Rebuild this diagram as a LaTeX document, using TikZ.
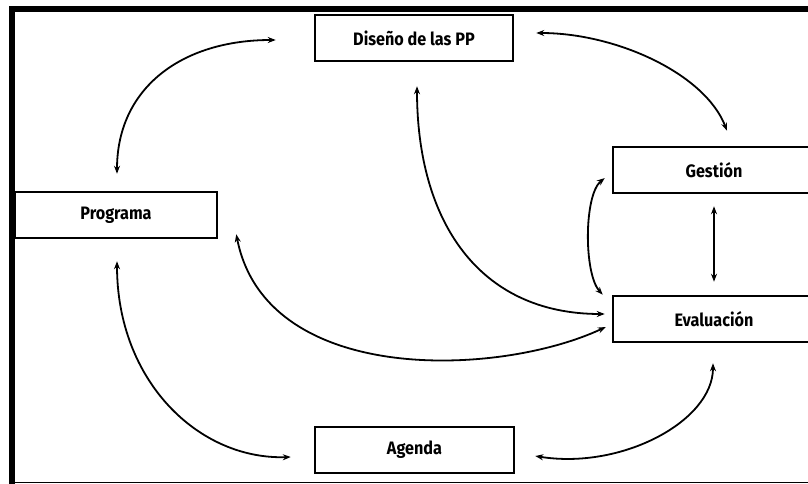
\documentclass[tikz,border=0pt]{standalone}
\usepackage{fontspec}
\setmainfont{Fira Sans}[FakeStretch=0.9]
\usetikzlibrary{arrows.meta,calc}

\tikzset{
  box/.style={draw=black, line width=2.5pt, minimum height=46pt, inner sep=0pt,
    font=\fontsize{18}{20}\selectfont\bfseries},
  link/.style={{Stealth[length=8pt,width=6pt]}-{Stealth[length=8pt,width=6pt]},
    line width=1.8pt, black}
}

\begin{document}
\begin{tikzpicture}[x=1pt, y=-1pt]
            \useasboundingbox (0, 0) rectangle (808, 484);
            \clip (0, 0) rectangle (808, 484);

            % the frame
            \draw[line width=6pt, line join=miter] (12, 490) -- (12, 9) -- (815, 9);
            \draw[line width=1.5pt] (15, 482.5) -- (815, 482.5);

            % the boxes
            \node[box, minimum width=198pt] (dis) at (414, 38) {Diseño de las PP};
            \node[box, minimum width=202pt] (prog) at (116, 215) {Programa};
            \node[box, minimum width=202pt] (ges) at (714, 170) {Gestión};
            \node[box, minimum width=202pt] (eva) at (714, 319) {Evaluación};
            \node[box, minimum width=199pt] (age) at (414.5, 450) {Agenda};

            % the links
            \draw[link] ($(prog.north)+(1, -17)$)
            .. controls +(0, -85) and +(-95, 0) ..
            ($(dis.west)+(-38, 2)$);
            \draw[link] ($(dis.east)+(22, -5)$)
            .. controls +(80, 0) and +(-22, -57) ..
            ($(ges.north)+(13, -15)$);
            \draw[link] ($(dis.south)+(3, 24)$)
            .. controls +(0, 135) and +(-126, 0) ..
            ($(eva.west)+(-7, -5)$);
            \draw[link] ($(prog.south east)+(18, -5)$)
            .. controls +(30, 152) and +(-107, 50) ..
            ($(eva.west)+(-6, 8)$);
            \draw[link] ($(ges.west)+(-7, 8)$)
            .. controls +(-21, 17) and +(-19, -21) ..
            ($(eva.north west)+(-9, 0)$);
            \draw[link] ($(ges.south)+(0, 12)$) -- ($(eva.north)+(0, -13)$);
            \draw[link] ($(prog.south)+(1, 22)$)
            .. controls +(0, 120) and +(-92, 3) ..
            ($(age.west)+(-23, 7)$);
            \draw[link] ($(eva.south)+(-1, 20)$)
            .. controls +(0, 58) and +(86, 14) ..
            ($(age.east)+(20, 6)$);
\end{tikzpicture}
\end{document}
